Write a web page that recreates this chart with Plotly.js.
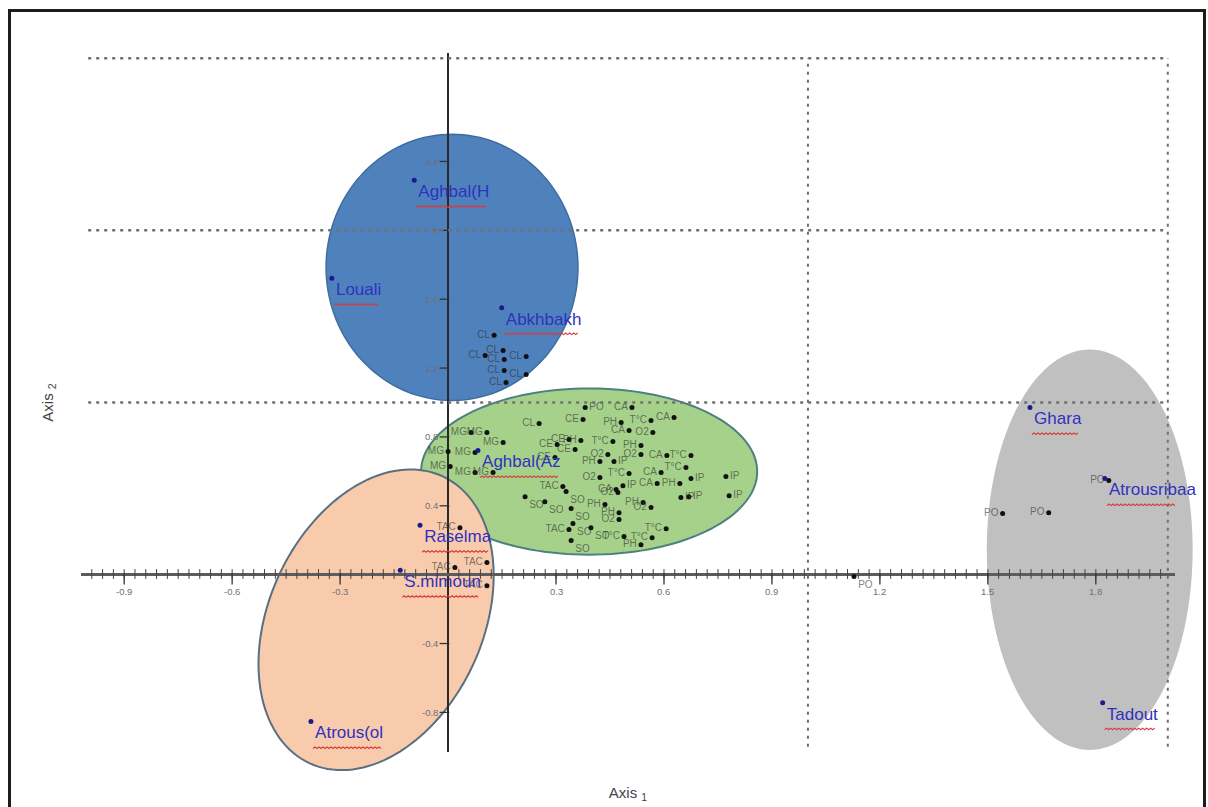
<!DOCTYPE html>
<html><head><meta charset="utf-8">
<script src="https://cdn.plot.ly/plotly-3.0.1.min.js"></script>
<style>
html,body{margin:0;padding:0;background:#fff;overflow:hidden;}
#chart{width:1208px;height:807px;}
#frame{position:absolute;left:8px;top:9px;width:1192px;height:798px;border-left:3px solid #1c1c1c;border-top:3px solid #1c1c1c;border-right:3px solid #1c1c1c;pointer-events:none;}
</style></head><body>
<div id="chart"></div><div id="frame"></div>
<script>
// ---- sites (blue labels) ----
const siteNames = ['Aghbal(H','Louali','Abkhbakh','Aghbal(Az','Raselma','S.mimoun','Atrous(ol','Ghara','Atrousribaa','Tadout'];
const siteX = [-0.094,-0.323,0.149,0.083,-0.078,-0.133,-0.381,1.617,1.825,1.819];
const siteY = [2.291,1.721,1.551,0.721,0.287,0.025,-0.853,0.971,0.558,-0.744];

// ---- variables (small labels) ----
const clX = [0.128,0.103,0.153,0.156,0.217,0.156,0.217,0.161,0.253];
const clY = [1.390,1.273,1.302,1.250,1.267,1.186,1.163,1.116,0.878];
const mgX = [0.064,0.108,0.153,0.000,0.075,0.006,0.075,0.125];
const mgY = [0.826,0.826,0.767,0.715,0.709,0.628,0.593,0.593];
const ceX = [0.375,0.303,0.336,0.353,0.297];
const ceY = [0.901,0.756,0.785,0.727,0.680];
const poX = [0.381,1.128,1.541,1.669,1.836];
const poY = [0.971,-0.010,0.355,0.360,0.547];
const caX = [0.511,0.628,0.503,0.608,0.592,0.581,0.467];
const caY = [0.971,0.913,0.837,0.692,0.593,0.529,0.494];
const tcX = [0.564,0.458,0.675,0.661,0.503,0.606,0.489,0.567];
const tcY = [0.895,0.773,0.692,0.622,0.587,0.267,0.221,0.215];
const phX = [0.481,0.369,0.536,0.422,0.644,0.436,0.542,0.475,0.536];
const phY = [0.884,0.779,0.750,0.657,0.529,0.407,0.419,0.360,0.174];
const o2X = [0.569,0.444,0.536,0.422,0.472,0.564,0.475];
const o2Y = [0.826,0.698,0.698,0.564,0.477,0.390,0.320];
const ipX = [0.461,0.675,0.772,0.486,0.781,0.647,0.669];
const ipY = [0.657,0.558,0.570,0.517,0.459,0.448,0.453];
const soX = [0.328,0.214,0.269,0.342,0.347,0.397,0.342];
const soY = [0.483,0.453,0.424,0.384,0.297,0.273,0.198];
const tacX = [0.033,0.019,0.108,0.108,0.319,0.336];
const tacY = [0.273,0.041,0.070,-0.064,0.512,0.262];

const varGroups = [
  ['CL', clX, clY], ['MG', mgX, mgY], ['CE', ceX, ceY], ['PO', poX, poY],
  ['CA', caX, caY], ['T°C', tcX, tcY], ['PH', phX, phY], ['O2', o2X, o2Y],
  ['IP', ipX, ipY], ['SO', soX, soY], ['TAC', tacX, tacY]
];

// ---- axis ticks ----
const xTicks = [-0.9,-0.6,-0.3,0.3,0.6,0.9,1.2,1.5,1.8];
const xTickText = ['-0.9','-0.6','-0.3','0.3','0.6','0.9','1.2','1.5','1.8'];
const yTicks = [2.4,2,1.6,1.2,0.8,0.4,-0.4,-0.8];
const yTickText = ['2.4','2','1.6','1.2','0.8','0.4','-0.4','-0.8'];
const gridX = [1,2];
const gridY = [1,2,3];

// ---- group ellipses: center, two conjugate half-axis vectors (data units) ----
const ellipses = [
  {c:[0.011,1.785], u:[0.350,0], v:[0,0.773], fill:'#4f81bd', line:'#3f6d9e', w:1.5},
  {c:[0.392,0.599], u:[0.467,0], v:[0,0.483], fill:'#a6d18a', line:'#4f8080', w:2},
  {c:[-0.200,-0.262], u:[0.1855,0.8326], v:[0.269,-0.263], fill:'#f8cbad', line:'#5a6f80', w:2},
  {c:[1.783,0.145], u:[0.286,0], v:[0,1.163], fill:'#c0c0c0', line:'#c0c0c0', w:0}
];

const XR = [-1.02, 2.02], YR = [-1.03, 3.03];
const px = x => (x - XR[0]) / (XR[1] - XR[0]);
const py = y => (y - YR[0]) / (YR[1] - YR[0]);

function ellipsePath(e){
  let p = '';
  const n = 140;
  for (let i = 0; i <= n; i++){
    const t = 2*Math.PI*i/n;
    const x = e.c[0] + e.u[0]*Math.cos(t) + e.v[0]*Math.sin(t);
    const y = e.c[1] + e.u[1]*Math.cos(t) + e.v[1]*Math.sin(t);
    p += (i ? 'L' : 'M') + px(x).toFixed(5) + ',' + py(y).toFixed(5);
  }
  return p + 'Z';
}

const SITE_FONT = 17;
const ctx = document.createElement('canvas').getContext('2d');
ctx.font = SITE_FONT + 'px "Liberation Sans", Arial, sans-serif';

// red wavy "spell-check" underline under each site label (pixel-sized, anchored on the site)
function wavyPath(width, yOff){
  let p = 'M2,' + yOff;
  let up = true;
  for (let xx = 4; xx <= width + 2; xx += 2){
    p += 'L' + xx + ',' + (yOff + (up ? 1.6 : 0));
    up = !up;
  }
  return p;
}

const shapes = [];
ellipses.forEach(e => shapes.push({type:'path', xref:'paper', yref:'paper', path:ellipsePath(e),
  fillcolor:e.fill, line:{color:e.line, width:e.w}, layer:'below'}));
gridY.forEach(g => shapes.push({type:'line', xref:'x', yref:'y', x0:-1, x1:2, y0:g, y1:g,
  line:{color:'#6f6f6f', width:2.5, dash:'3px,5px'}, layer:'above'}));
gridX.forEach(g => shapes.push({type:'line', xref:'x', yref:'y', x0:g, x1:g, y0:-1, y1:3,
  line:{color:'#6f6f6f', width:2, dash:'3px,5px'}, layer:'above'}));
siteNames.forEach((n,i) => {
  const w = ctx.measureText(n).width;
  shapes.push({type:'path', xref:'x', yref:'y', xsizemode:'pixel', ysizemode:'pixel',
    xanchor:siteX[i], yanchor:siteY[i], path:wavyPath(w, -27),
    line:{color:'#d83a3a', width:1.1}, layer:'above'});
});

const traces = [];
const minorX = [];
for (let k = -33; k <= 66; k++){ if (k !== 0) minorX.push(k*0.03); }
traces.push({x:minorX, y:minorX.map(()=>0.004), mode:'markers', type:'scatter', hoverinfo:'skip',
  marker:{symbol:'line-ns', size:7, line:{width:1, color:'#444'}}, cliponaxis:false});
traces.push({x:xTicks, y:xTicks.map(()=>-0.025), mode:'markers', type:'scatter', hoverinfo:'skip',
  marker:{symbol:'line-ns', size:8, line:{width:1.3, color:'#333'}}, cliponaxis:false});
traces.push({x:yTicks.map(()=>-0.01), y:yTicks, mode:'markers', type:'scatter', hoverinfo:'skip',
  marker:{symbol:'line-ew', size:7, line:{width:1.3, color:'#333'}}, cliponaxis:false});

const labelPos = {IP:'middle right', SO:'bottom right',
  PO:['middle right','bottom right','middle left','middle left','middle left']};
varGroups.forEach(([name, xs, ys]) => {
  traces.push({x:xs, y:ys, type:'scatter', mode:'markers+text', name:name,
    text:xs.map(()=>name), textposition:labelPos[name] || 'middle left',
    textfont:{family:'Liberation Sans, Arial, sans-serif', size:10, color:'rgba(45,45,45,0.62)'},
    marker:{color:'#111', size:5}, cliponaxis:false, hoverinfo:'skip'});
});

traces.push({x:siteX, y:siteY, type:'scatter', mode:'markers+text', name:'sites',
  text:siteNames, textposition:'bottom right',
  textfont:{family:'Liberation Sans, Arial, sans-serif', size:SITE_FONT, color:'#3131bd'},
  marker:{color:'#1b1b8c', size:5}, cliponaxis:false, hoverinfo:'skip'});

const annotations = [];
xTicks.forEach((v,i) => annotations.push({x:v, y:0, xref:'x', yref:'y', text:xTickText[i],
  showarrow:false, yshift:-17, font:{family:'Liberation Sans, Arial', size:9.5, color:'#707070'}}));
yTicks.forEach((v,i) => annotations.push({x:0, y:v, xref:'x', yref:'y', text:yTickText[i],
  showarrow:false, xanchor:'right', xshift:-8, font:{family:'Liberation Sans, Arial', size:9.5, color:'#707070'}}));

const layout = {
  width:1208, height:807,
  margin:{l:81, r:33, t:53, b:55},
  paper_bgcolor:'#ffffff', plot_bgcolor:'rgba(0,0,0,0)',
  showlegend:false, hovermode:false,
  xaxis:{range:XR, showgrid:false, zeroline:true, zerolinecolor:'#2a2a2a', zerolinewidth:1.6,
    showticklabels:false, ticks:'', showline:false,
    title:{text:'Axis <sub>1</sub>', standoff:35, font:{family:'Liberation Sans, Arial', size:15, color:'#444'}}},
  yaxis:{range:YR, showgrid:false, zeroline:true, zerolinecolor:'#5c5c5c', zerolinewidth:3,
    showticklabels:false, ticks:'', showline:false,
    title:{text:'Axis <sub>2</sub>', standoff:22, font:{family:'Liberation Sans, Arial', size:15, color:'#444'}}},
  shapes:shapes,
  annotations:annotations
};

Plotly.newPlot('chart', traces, layout, {staticPlot:true, displayModeBar:false});
</script></body></html>
